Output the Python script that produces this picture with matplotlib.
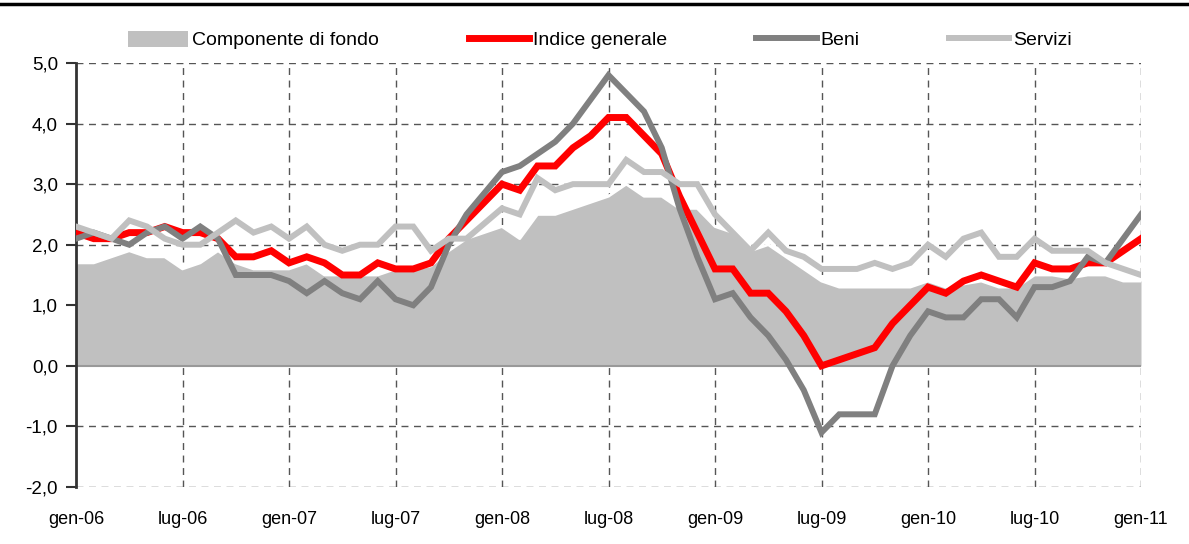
import matplotlib
matplotlib.use('Agg')
import matplotlib.pyplot as plt
from matplotlib.lines import Line2D
from matplotlib.patches import Patch
import numpy as np

plt.rcParams['font.family'] = ['Liberation Sans', 'DejaVu Sans']

# monthly data, gen-06 .. gen-11
fondo = [1.7, 1.7, 1.8, 1.9, 1.8, 1.8, 1.6, 1.7, 1.9, 1.7, 1.6, 1.6, 1.6, 1.7, 1.5, 1.5,
         1.5, 1.5, 1.6, 1.6, 1.65, 1.9, 2.1, 2.2, 2.3, 2.1, 2.5, 2.5, 2.6, 2.7, 2.8, 3.0,
         2.8, 2.8, 2.6, 2.6, 2.3, 2.2, 1.9, 2.0, 1.8, 1.6, 1.4, 1.3, 1.3, 1.3, 1.3, 1.3,
         1.4, 1.3, 1.35, 1.4, 1.3, 1.3, 1.5, 1.5, 1.45, 1.5, 1.5, 1.4, 1.4]
indice = [2.2, 2.1, 2.1, 2.2, 2.2, 2.3, 2.2, 2.2, 2.1, 1.8, 1.8, 1.9, 1.7, 1.8, 1.7, 1.5,
          1.5, 1.7, 1.6, 1.6, 1.7, 2.1, 2.4, 2.7, 3.0, 2.9, 3.3, 3.3, 3.6, 3.8, 4.1, 4.1,
          3.8, 3.5, 2.8, 2.2, 1.6, 1.6, 1.2, 1.2, 0.9, 0.5, 0.0, 0.1, 0.2, 0.3, 0.7, 1.0,
          1.3, 1.2, 1.4, 1.5, 1.4, 1.3, 1.7, 1.6, 1.6, 1.7, 1.7, 1.9, 2.1]
beni = [2.1, 2.2, 2.1, 2.0, 2.2, 2.3, 2.1, 2.3, 2.1, 1.5, 1.5, 1.5, 1.4, 1.2, 1.4, 1.2,
        1.1, 1.4, 1.1, 1.0, 1.3, 2.0, 2.5, 2.85, 3.2, 3.3, 3.5, 3.7, 4.0, 4.4, 4.8, 4.5,
        4.2, 3.6, 2.6, 1.8, 1.1, 1.2, 0.8, 0.5, 0.1, -0.4, -1.1, -0.8, -0.8, -0.8, 0.0, 0.5,
        0.9, 0.8, 0.8, 1.1, 1.1, 0.8, 1.3, 1.3, 1.4, 1.8, 1.7, 2.1, 2.5]
servizi = [2.3, 2.2, 2.1, 2.4, 2.3, 2.1, 2.0, 2.0, 2.2, 2.4, 2.2, 2.3, 2.1, 2.3, 2.0, 1.9,
           2.0, 2.0, 2.3, 2.3, 1.9, 2.1, 2.1, 2.35, 2.6, 2.5, 3.1, 2.9, 3.0, 3.0, 3.0, 3.4,
           3.2, 3.2, 3.0, 3.0, 2.5, 2.2, 1.9, 2.2, 1.9, 1.8, 1.6, 1.6, 1.6, 1.7, 1.6, 1.7,
           2.0, 1.8, 2.1, 2.2, 1.8, 1.8, 2.1, 1.9, 1.9, 1.9, 1.7, 1.6, 1.5]
tick_labels = ['gen-06', 'lug-06', 'gen-07', 'lug-07', 'gen-08', 'lug-08',
               'gen-09', 'lug-09', 'gen-10', 'lug-10', 'gen-11']

x = np.arange(len(indice))

fig = plt.figure(figsize=(11.89, 5.44), dpi=100)
ax = fig.add_axes([76/1189, 57/544, 1065/1189, 424/544])

# grid
for yv in range(-2, 6):
    if yv != 0:
        ax.axhline(yv, color='#555555', lw=1, ls=(0, (5, 4)), zorder=0)
for xv in range(6, 61, 6):
    ax.axvline(xv, color='#555555', lw=1, ls=(0, (5, 4)), zorder=0)

ax.fill_between(x, 0, fondo, color='#c0c0c0', lw=0, zorder=1)
ax.plot(x, fondo, color='white', lw=2, zorder=1.5)
ax.axhline(0, color='#999999', lw=1.5, zorder=2)

ax.plot(x, indice, color='#ff0000', lw=5, solid_joinstyle='miter', zorder=3)
ax.plot(x, beni, color='#808080', lw=4.3, solid_joinstyle='miter', zorder=3)
ax.plot(x, servizi, color='#c0c0c0', lw=4.3, solid_joinstyle='miter', zorder=3)

ax.set_xlim(0, 60)
ax.set_ylim(-2, 5)
ax.set_xticks(np.arange(0, 61, 6))
ax.set_xticklabels(tick_labels)
ax.set_yticks(range(-2, 6))
ax.set_yticklabels([('%.1f' % v).replace('.', ',') for v in range(-2, 6)])
ax.tick_params(axis='x', length=0, pad=17, labelsize=13)
ax.tick_params(axis='y', length=7, width=1.5, color='#333333', pad=6, labelsize=13.5)

for s in ['top', 'right', 'bottom']:
    ax.spines[s].set_visible(False)
ax.spines['left'].set_color('#333333')
ax.spines['left'].set_linewidth(2)

handles = [Patch(facecolor='#c0c0c0', edgecolor='none'),
           Line2D([], [], color='#ff0000', lw=5),
           Line2D([], [], color='#808080', lw=4.3),
           Line2D([], [], color='#c0c0c0', lw=4.3)]
labels = ['Componente di fondo', 'Indice generale', 'Beni', 'Servizi']
fig.legend(handles, labels, loc='center', bbox_to_anchor=(600/1189, 1 - 40/544),
           ncol=4, frameon=False, fontsize=14, handlelength=3.1, handleheight=0.9,
           handletextpad=0.2, columnspacing=4.6)

fig.add_artist(Line2D([0, 1], [1 - 4/544, 1 - 4/544], color='black', lw=2.5))

fig.savefig('out.png', dpi=100)
